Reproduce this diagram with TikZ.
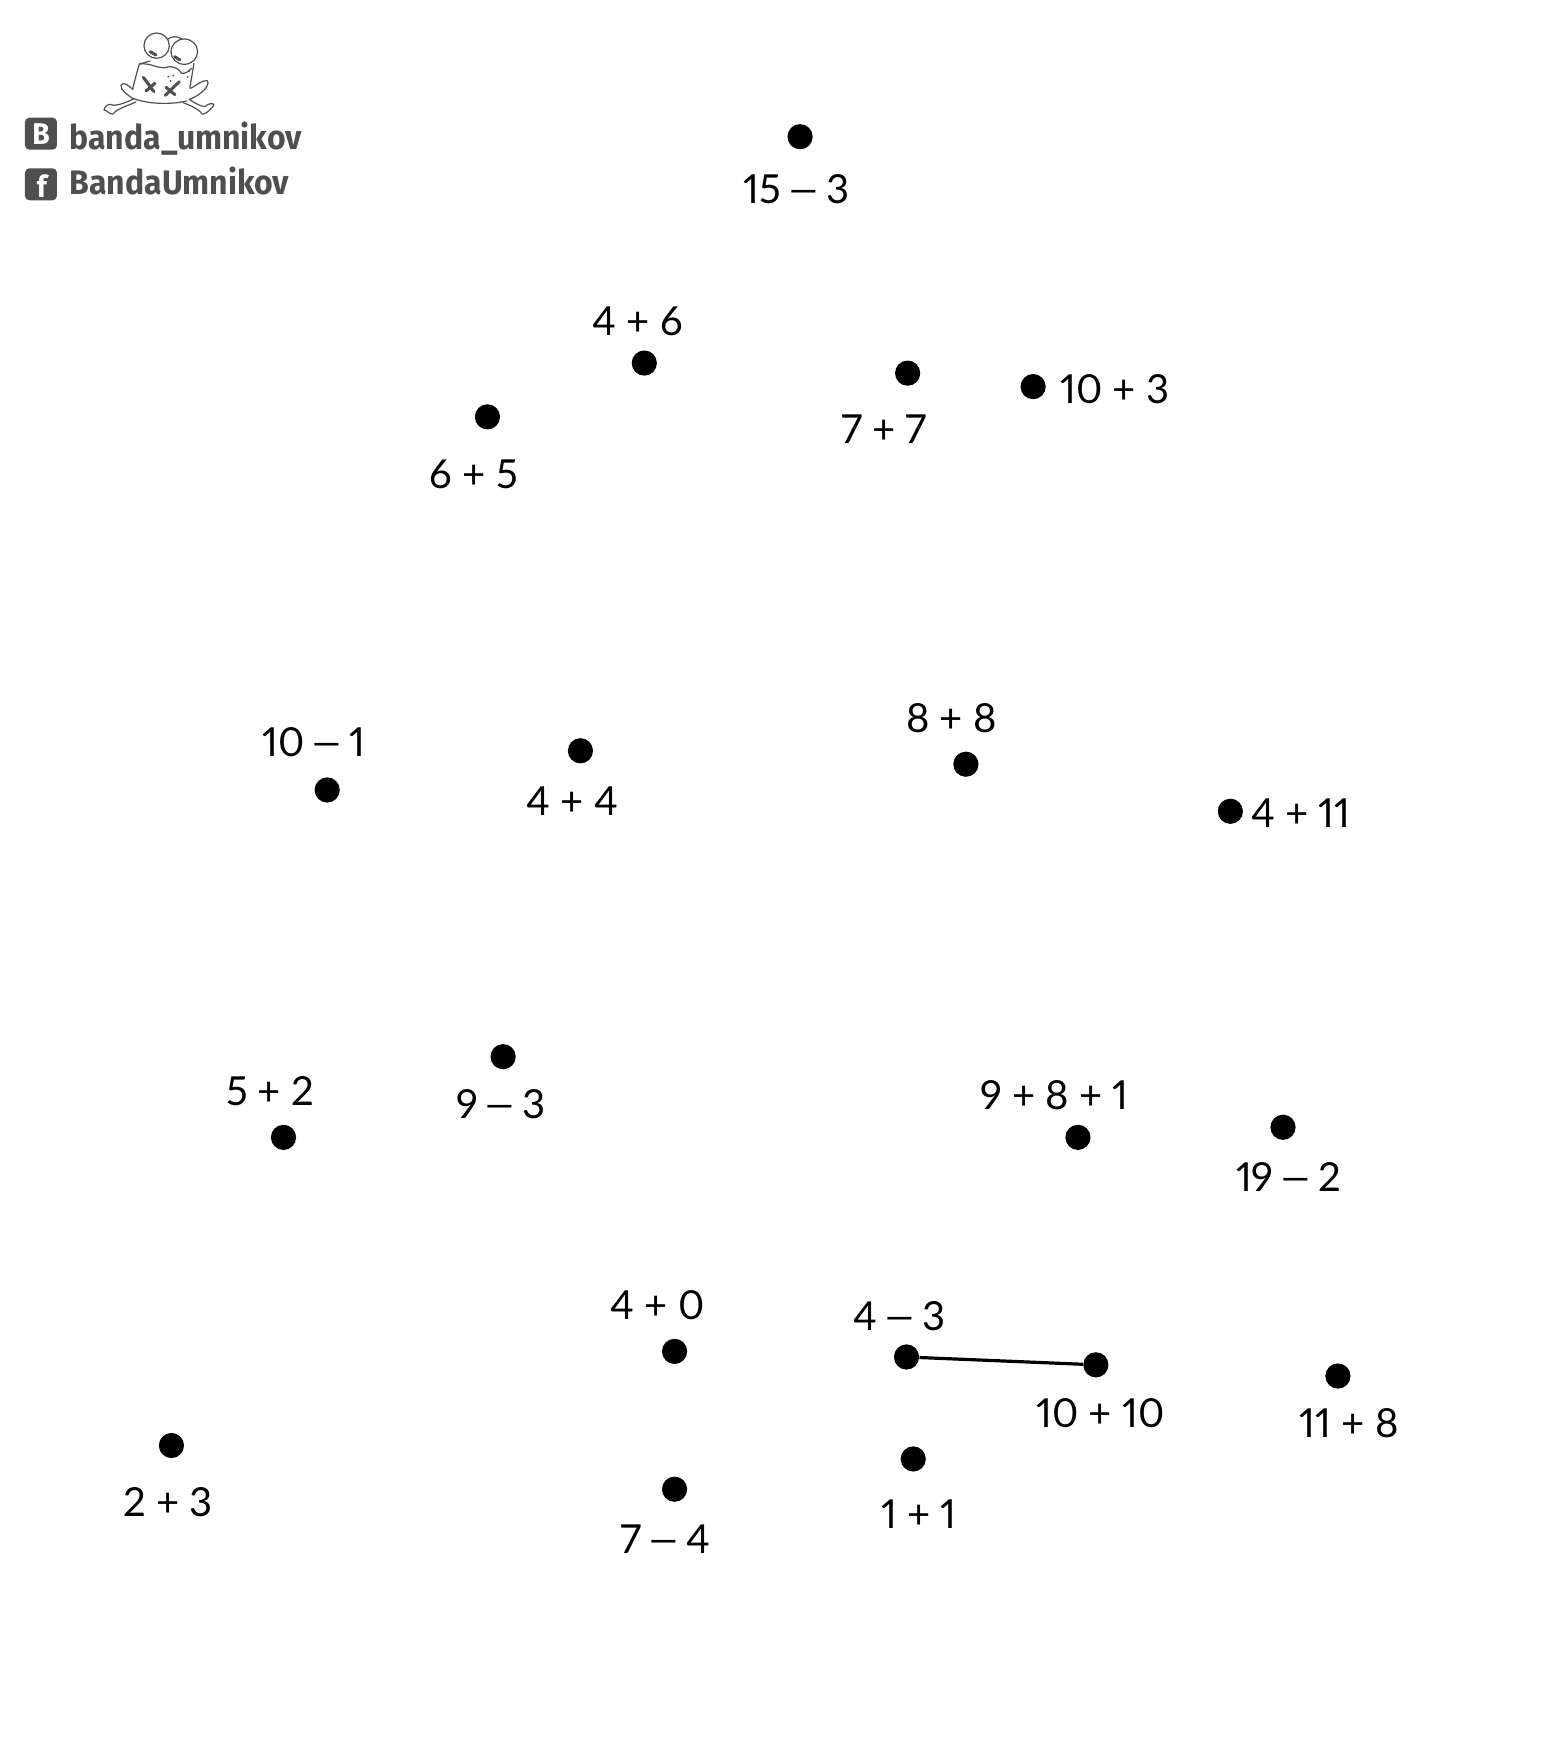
\documentclass[tikz,border=0pt]{standalone}
\usepackage{fontspec}
\setmainfont{Lato}[Numbers=Proportional]
\newfontfamily\logofont{Fira Sans}[FakeStretch=0.94]
\usetikzlibrary{arrows.meta,calc}
\definecolor{logog}{HTML}{4F4F4F}
\newcommand{\strich}{\kern-2.6pt\scalebox{1.5}[1]{–}\kern-2.6pt}
\tikzset{
  punkt/.style={circle,fill=black,inner sep=0pt,minimum size=12.6pt},
  zahl/.style={inner sep=0pt,font=\fontsize{20}{24}\selectfont,text=black},
  verb/.style={black,line width=1.6pt},
  frosch/.style={logog,line width=0.6pt,line join=round,line cap=round},
  kreuz/.style={logog,line width=1.5pt,line cap=round},
  icon/.style={fill=logog,rounded corners=2.2pt},
  icontxt/.style={inner sep=0pt,text=white,font=\logofont\bfseries\fontsize{15}{15}\selectfont},
  logotxt/.style={inner sep=0pt,anchor=base west,text=logog,font=\logofont\bfseries\fontsize{17}{20}\selectfont},
}
\begin{document}
\begin{tikzpicture}[x=0.5604pt,y=-0.5604pt]
  \useasboundingbox (0,0) rectangle (1381,1568);
  % dots
  \node[punkt] (a1) at (809,1211) {};
  \node[punkt] (a2) at (815,1302) {};
  \node[punkt] (a3) at (602,1329) {};
  \node[punkt] (a4) at (602,1206) {};
  \node[punkt] (a5) at (153,1290) {};
  \node[punkt] (a6) at (449,943) {};
  \node[punkt] (a7) at (253,1015) {};
  \node[punkt] (a8) at (518,670) {};
  \node[punkt] (a9) at (292,705) {};
  \node[punkt] (a10) at (575,324) {};
  \node[punkt] (a11) at (435,372) {};
  \node[punkt] (a12) at (714,122) {};
  \node[punkt] (a13) at (922,345) {};
  \node[punkt] (a14) at (810,333) {};
  \node[punkt] (a15) at (1098,724) {};
  \node[punkt] (a16) at (862,682) {};
  \node[punkt] (a17) at (1145,1006) {};
  \node[punkt] (a18) at (962,1015) {};
  \node[punkt] (a19) at (1194,1228) {};
  \node[punkt] (a20) at (978,1218) {};
  \draw[verb] (a1) -- (a20);
  % labels
  \node[zahl] (t1) at (803,1175) {4 \strich{} 3};
  \node[zahl] (t2) at (820,1351) {1 + 1};
  \node[zahl] (t3) at (594,1374) {7 \strich{} 4};
  \node[zahl] (t4) at (587,1165) {4 + 0};
  \node[zahl] (t5) at (150,1341) {2 + 3};
  \node[zahl] (t6) at (447,985) {9 \strich{} 3};
  \node[zahl] (t7) at (241,974) {5 + 2};
  \node[zahl] (t8) at (511,715) {4 + 4};
  \node[zahl] (t9) at (280,662) {10 \strich{} 1};
  \node[zahl] (t10) at (569,287) {4 + 6};
  \node[zahl] (t11) at (423,423) {6 + 5};
  \node[zahl] (t12) at (711,169) {15 \strich{} 3};
  \node[zahl] (t13) at (995,347) {10 + 3};
  \node[zahl] (t14) at (789,383) {7 + 7};
  \node[zahl] (t15) at (1161,726) {4 + 11};
  \node[zahl] (t16) at (849,641) {8 + 8};
  \node[zahl] (t17) at (1150,1050) {19 \strich{} 2};
  \node[zahl] (t18) at (941,977) {9 + 8 + 1};
  \node[zahl] (t19) at (1204,1270) {11 + 8};
  \node[zahl] (t20) at (982,1261) {10 + 10};
  % logo, in the pixels of the zoomed crop
  \begin{scope}[x=0.16667pt,y=-0.16667pt]
    \draw[frosch] (470,137) circle[radius=38];
    \draw[frosch] (553,155) ellipse[x radius=40,y radius=38];
    \draw[frosch] (503,118) .. controls (515,108) and (530,108) .. (545,116);
    \draw[frosch] (450,183) -- (418,192) .. controls (410,220) and (402,250) .. (398,268);
    \draw[frosch] (418,192) .. controls (450,188) and (470,205) .. (495,203) .. controls (520,195) and (535,205) .. (545,220) .. controls (555,222) and (565,215) .. (575,205);
    \draw[frosch] (582,190) -- (570,262);
    \draw[frosch] (400,295) .. controls (440,312) and (510,315) .. (560,303);
    \draw[frosch] (398,268) .. controls (385,255) and (370,245) .. (363,255) .. controls (360,272) and (385,285) .. (400,297) .. controls (385,305) and (360,315) .. (342,316) .. controls (325,308) and (315,318) .. (312,330) .. controls (322,330) and (328,345) .. (340,342) .. controls (345,330) and (375,320) .. (408,306);
    \draw[frosch] (570,265) .. controls (585,262) and (605,238) .. (622,242) .. controls (632,255) and (605,285) .. (568,298) .. controls (585,310) and (600,318) .. (615,320) .. controls (625,310) and (640,308) .. (642,315) .. controls (635,325) and (625,338) .. (608,343) .. controls (600,330) and (575,318) .. (550,308);
    \draw[kreuz] (430,232) -- (462,275);
    \draw[kreuz] (465,250) -- (438,273);
    \draw[kreuz] (538,245) -- (496,286);
    \draw[kreuz] (498,262) -- (525,284);
    \draw[kreuz] (450,155) -- (468,165);
    \draw[kreuz] (524,170) -- (540,180);
    \fill[logog] (505,230) circle[radius=3] (520,227) circle[radius=3] (512,243) circle[radius=3] (567,214) circle[radius=3] (563,231) circle[radius=3];
    \node[icon,minimum width=16pt,minimum height=16pt,inner sep=0pt] (vk) at (123,401) {};
    \node[icon,minimum width=16pt,minimum height=16pt,inner sep=0pt] (fb) at (123,553) {};
    \node[icontxt] at (vk) {B};
    \node[icontxt] at ($(fb)+(3,6)$) {f};
    \node[logotxt] (vkname) at (208,448) {banda\_umnikov};
    \node[logotxt] (fbname) at (208,583) {BandaUmnikov};
  \end{scope}
\end{tikzpicture}
\end{document}
